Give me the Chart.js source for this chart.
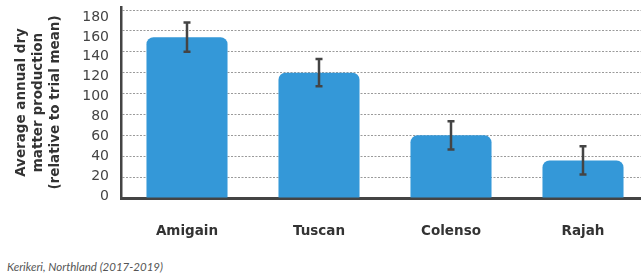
<!DOCTYPE html>
<html>
<head>
<meta charset="utf-8">
<script src="https://cdn.jsdelivr.net/npm/chart.js@4"></script>
<style>
  html, body { margin: 0; padding: 0; background: #fff; overflow: hidden; }
  #wrap { position: absolute; left: 0; top: 0; width: 650px; height: 245px; }
  #note { position: absolute; left: 7px; top: 260px; font: italic 11.5px Lato, sans-serif; color: #555; }
</style>
</head>
<body>
<div id="wrap"><canvas id="myBarChart"></canvas></div>
<div id="note">Kerikeri, Northland (2017-2019)</div>
<script>
var cultivars = ['Amigain', 'Tuscan', 'Colenso', 'Rajah'];
var meanValues = [154, 120, 60, 36];
var errorValues = [14, 13, 13.5, 13.5];
var yTicks = [0, 20, 40, 60, 80, 100, 120, 140, 160, 180];

// draw the error bars from the y scale
var errorBars = {
  id: 'errorBars',
  afterDatasetsDraw: function (chart) {
    var ctx = chart.ctx;
    var y = chart.scales.y;
    var meta = chart.getDatasetMeta(0);
    ctx.save();
    ctx.strokeStyle = '#444';
    ctx.lineWidth = 2.5;
    meta.data.forEach(function (bar, i) {
      var top = y.getPixelForValue(meanValues[i] + errorValues[i]);
      var bot = y.getPixelForValue(meanValues[i] - errorValues[i]);
      ctx.beginPath();
      ctx.moveTo(bar.x, top);
      ctx.lineTo(bar.x, bot);
      ctx.moveTo(bar.x - 3.5, top);
      ctx.lineTo(bar.x + 3.5, top);
      ctx.moveTo(bar.x - 3.5, bot);
      ctx.lineTo(bar.x + 3.5, bot);
      ctx.stroke();
    });
    ctx.restore();
  }
};

var ctx = document.getElementById('myBarChart').getContext('2d');
var myBarChart = new Chart(ctx, {
  type: 'bar',
  data: {
    labels: cultivars,
    datasets: [
      {
        data: meanValues,
        backgroundColor: '#3498d8',
        borderRadius: { topLeft: 7, topRight: 7 },
        borderSkipped: 'bottom',
        barPercentage: 0.614,
        categoryPercentage: 1
      }
    ]
  },
  options: {
    responsive: true,
    maintainAspectRatio: false,
    animation: false,
    layout: { padding: { top: 0, right: 1, left: 0, bottom: 0 } },
    plugins: {
      legend: { display: false },
      tooltip: { enabled: false }
    },
    scales: {
      x: {
        grid: { display: false },
        border: { display: true, color: '#444', width: 3 },
        ticks: {
          padding: 17,
          color: '#333',
          font: { family: 'DejaVu Sans', size: 13.5, weight: 'bold' }
        },
        afterFit: function (scale) { scale.height = 47; }
      },
      // value axis: grid lines and the axis line
      y: {
        position: 'left',
        weight: 0,
        min: 0,
        max: 182.9,
        afterBuildTicks: function (scale) {
          scale.ticks = yTicks.map(function (v) { return { value: v }; });
        },
        grid: { color: '#9a9a9a', lineWidth: 1, drawTicks: false },
        border: { display: true, color: '#444', width: 2.5, dash: [2, 1.5] },
        ticks: { display: false },
        afterFit: function (scale) { scale.width = 0; }
      },
      // tick labels and title (labels sit slightly off the grid in the original)
      yl: {
        position: 'left',
        weight: 1,
        min: -2,
        max: 190.1,
        afterBuildTicks: function (scale) {
          scale.ticks = yTicks.map(function (v) { return { value: v }; });
        },
        grid: { display: false, drawTicks: true, tickLength: 12 },
        border: { display: false },
        ticks: {
          autoSkip: false,
          padding: 0,
          color: '#444',
          font: { family: 'DejaVu Sans', size: 14, lineHeight: 1 }
        },
        title: {
          display: true,
          text: ['Average annual dry', 'matter production', '(relative to trial mean)'],
          color: '#333',
          padding: { top: 13, bottom: 0 },
          font: { family: 'DejaVu Sans', size: 13.5, weight: 'bold', lineHeight: 1.25 }
        },
        afterFit: function (scale) { scale.width = 121; }
      }
    }
  },
  plugins: [errorBars]
});
</script>
</body>
</html>
